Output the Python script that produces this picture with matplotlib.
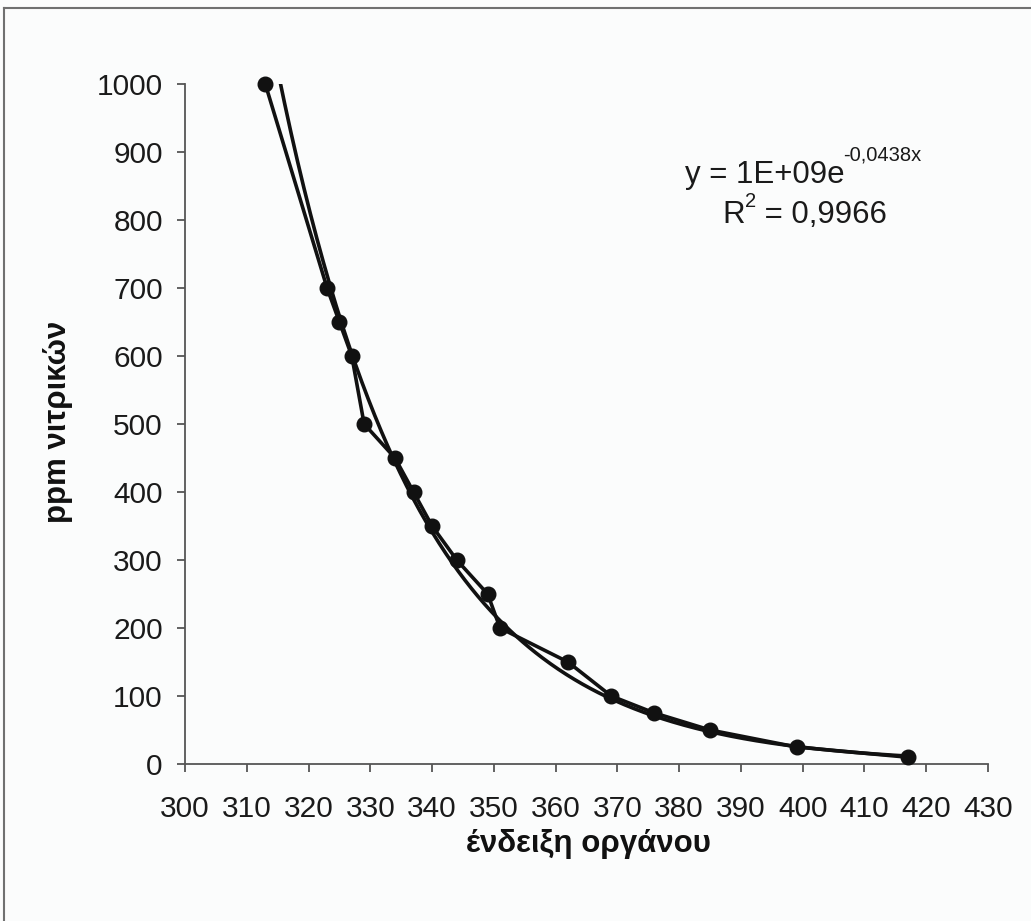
import numpy as np
import matplotlib
matplotlib.use("Agg")
import matplotlib.pyplot as plt
from matplotlib.lines import Line2D
from matplotlib.transforms import IdentityTransform

# ---- data ----
reading = [313, 323, 325, 327, 329, 334, 337, 340, 344, 349, 351, 362, 369, 376, 385, 399, 417]
ppm = [1000, 700, 650, 600, 500, 450, 400, 350, 300, 250, 200, 150, 100, 75, 50, 25, 10]
x_ticks = list(range(300, 431, 10))
y_ticks = list(range(0, 1001, 100))
eq_main = "y = 1E+09e"
eq_exp = "-0,0438x"
r2_base = "R"
r2_sup = "2"
r2_rest = " = 0,9966"
xlabel = "ένδειξη οργάνου"
ylabel = "ppm νιτρικών"

plt.rcParams['font.family'] = ['Liberation Sans', 'DejaVu Sans']

W, H = 1031, 921
fig = plt.figure(figsize=(W / 100, H / 100), dpi=100)
bg = '#fbfcfc'
fig.patch.set_facecolor(bg)

# chart-area border (top and left visible)
fig.add_artist(Line2D([4 / W, 1], [1 - 8 / H, 1 - 8 / H], transform=fig.transFigure,
                      color='#707070', lw=1.5))
fig.add_artist(Line2D([4 / W, 4 / W], [0, 1 - 8 / H], transform=fig.transFigure,
                      color='#707070', lw=1.5))

ax = fig.add_axes([185 / W, 1 - 764 / H, (988 - 185) / W, (764 - 84) / H])
ax.set_facecolor(bg)

x = np.array(reading, dtype=float)
y = np.array(ppm, dtype=float)

# exponential trendline (least squares on ln y)
b, lna = np.polyfit(x, np.log(y), 1)
xt = np.linspace(x.min(), x.max(), 400)
yt = np.exp(lna) * np.exp(b * xt)
ax.plot(xt, yt, color='#111111', lw=2.6, clip_on=True, zorder=2)

ax.plot(x, y, color='#111111', lw=2.6, marker='o', markersize=10.5,
        markerfacecolor='#111111', markeredgecolor='#111111', zorder=3, clip_on=False)

ax.set_xlim(300, 430)
ax.set_ylim(0, 1000)
ax.set_xticks(x_ticks)
ax.set_yticks(y_ticks)
ax.set_xticklabels([str(v) for v in x_ticks])
ax.set_yticklabels([str(v) for v in y_ticks])

for s in ['top', 'right']:
    ax.spines[s].set_visible(False)
for s in ['left', 'bottom']:
    ax.spines[s].set_color('#555555')
    ax.spines[s].set_linewidth(1.3)
ax.tick_params(axis='both', direction='out', length=6, width=1.3, color='#555555',
               labelsize=21.5, labelcolor='#1a1a1a', pad=10)
ax.tick_params(axis='x', pad=16)

ax.set_xlabel(xlabel, fontsize=22.5, fontweight='bold', color='#111111')
ax.set_ylabel(ylabel, fontsize=22.5, fontweight='bold', color='#111111')
ax.xaxis.set_label_coords(0.502, (764 - 844) / 680)
ax.xaxis.label.set_va('center')
ax.yaxis.set_label_coords((58 - 185) / 803, 0.503)
ax.yaxis.label.set_va('center')
ax.yaxis.label.set_ha('center')

# equation text in pixel coordinates
idt = IdentityTransform()
t1 = fig.text(685, H - 183, eq_main, transform=idt, fontsize=22.5, color='#1a1a1a',
              va='baseline', ha='left')
fig.canvas.draw()
bb1 = t1.get_window_extent()
fig.text(bb1.x1 - 2, H - 160, eq_exp, transform=idt, fontsize=14.5, color='#1a1a1a',
         va='baseline', ha='left')
t2 = fig.text(722, H - 223, r2_base, transform=idt, fontsize=22.5, color='#1a1a1a',
              va='baseline', ha='left')
fig.canvas.draw()
bb2 = t2.get_window_extent()
t3 = fig.text(bb2.x1, H - 207, r2_sup, transform=idt, fontsize=14.5, color='#1a1a1a',
              va='baseline', ha='left')
fig.canvas.draw()
bb3 = t3.get_window_extent()
fig.text(bb3.x1, H - 223, r2_rest, transform=idt, fontsize=22.5, color='#1a1a1a',
         va='baseline', ha='left')

fig.savefig("out.png", dpi=100, facecolor=fig.get_facecolor())
